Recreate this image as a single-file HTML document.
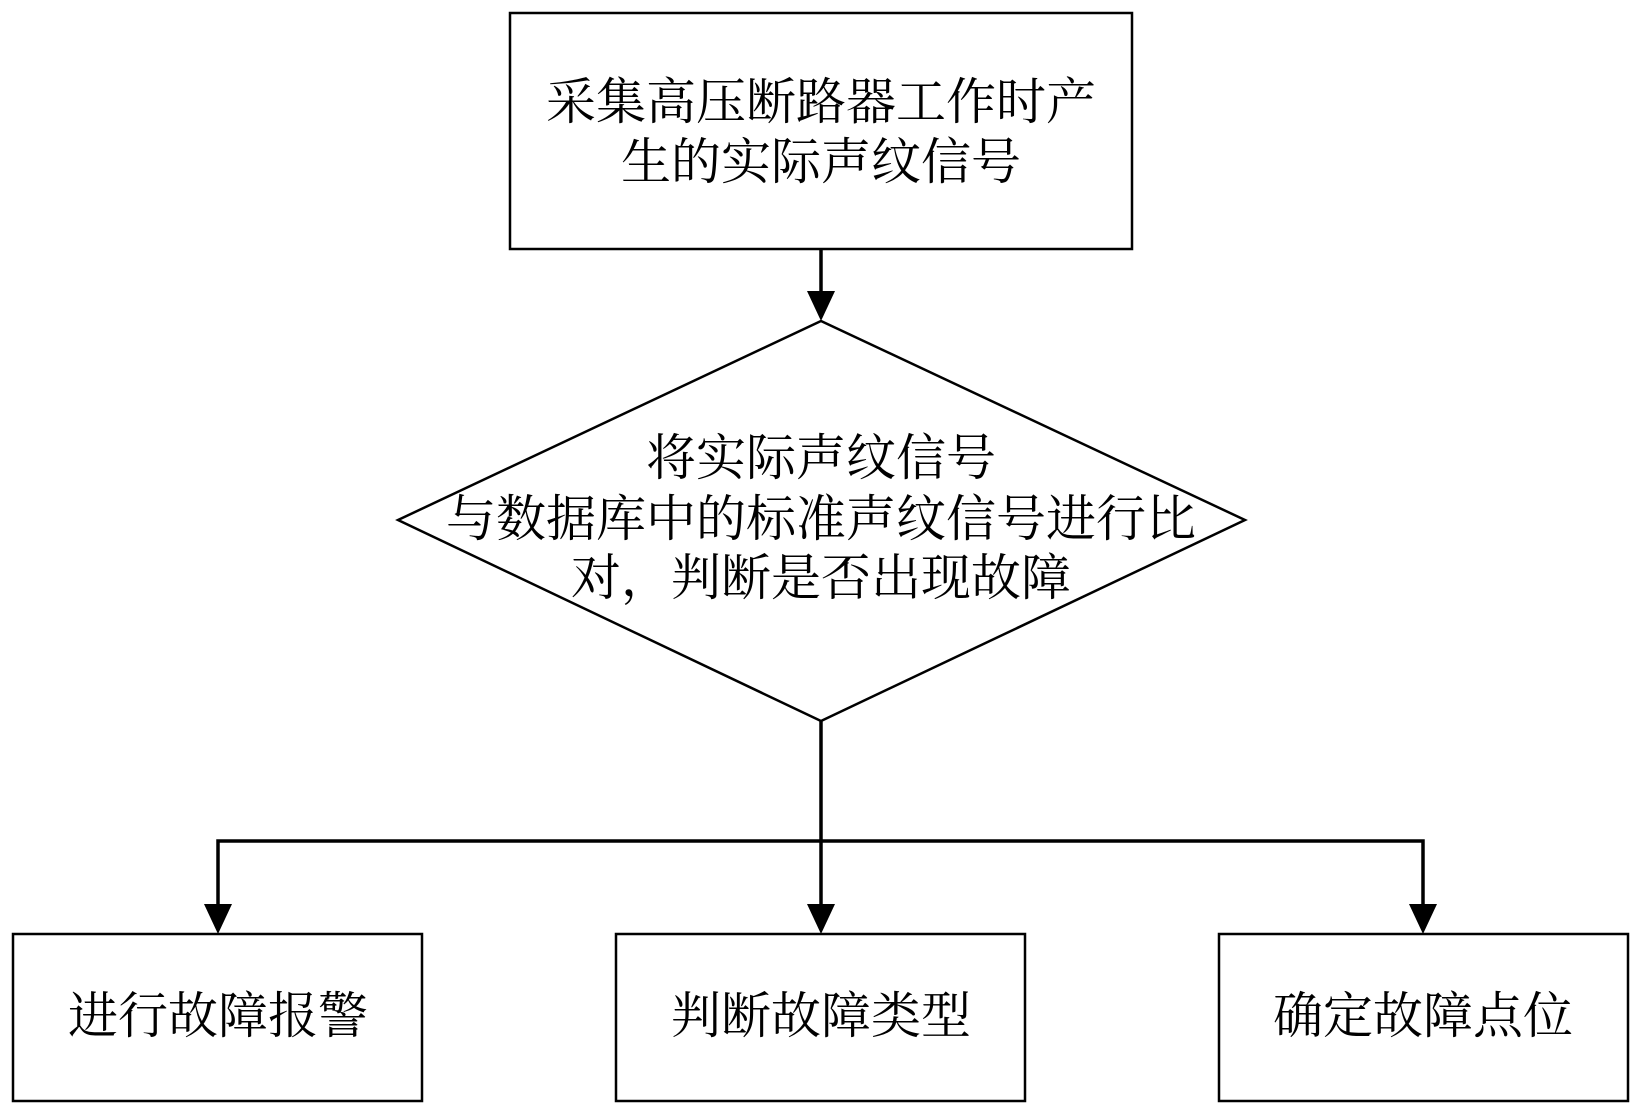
<!DOCTYPE html>
<html><head><meta charset="utf-8"><style>
html,body{margin:0;padding:0;background:#fff;}
svg text{font-family:"Liberation Serif","Noto Serif CJK SC",serif;font-size:50px;fill:#000;text-anchor:middle;dominant-baseline:central;}
</style></head><body>
<svg width="1643" height="1114" viewBox="0 0 1643 1114" xmlns="http://www.w3.org/2000/svg">
<g fill="none" stroke="#000" stroke-width="2.5">
<rect x="510" y="13" width="622" height="236"/>
<polygon points="821,321 1245,520 821,721 398,520"/>
<rect x="13" y="934" width="409" height="167"/>
<rect x="616" y="934" width="409" height="167"/>
<rect x="1219" y="934" width="409" height="167"/>
<g stroke-width="3.5">
<line x1="821" y1="249" x2="821" y2="295"/>
<line x1="821" y1="721" x2="821" y2="906"/>
<polyline points="218,906 218,841 1423,841 1423,906"/>
</g>
</g>
<g fill="#000">
<polygon points="807,291 835,291 821,321"/>
<polygon points="204,904 232,904 218,934"/>
<polygon points="807,904 835,904 821,934"/>
<polygon points="1409,904 1437,904 1423,934"/>
</g>
<text x="821" y="102">采集高压断路器工作时产</text>
<text x="821" y="162">生的实际声纹信号</text>
<text x="821" y="458">将实际声纹信号</text>
<text x="821" y="519">与数据库中的标准声纹信号进行比</text>
<text x="821" y="578">对，判断是否出现故障</text>
<text x="218" y="1016">进行故障报警</text>
<text x="821" y="1016">判断故障类型</text>
<text x="1423" y="1016">确定故障点位</text>
</svg>
</body></html>
